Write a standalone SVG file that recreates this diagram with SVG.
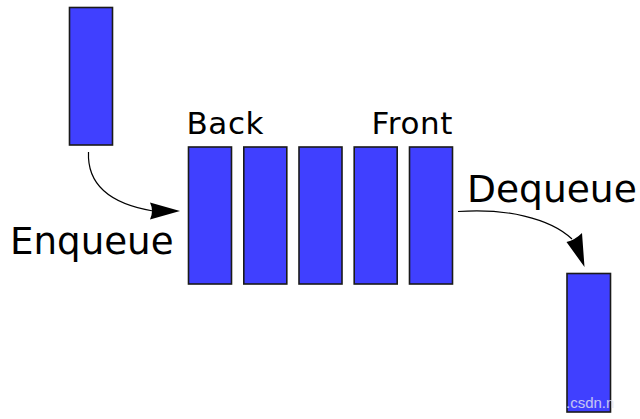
<svg xmlns="http://www.w3.org/2000/svg" width="640" height="419" viewBox="0 0 640 419">
<style>
.box{fill:#4040ff;stroke:#1a1a1a;stroke-width:1.6}
.lbl{font-family:"DejaVu Sans",sans-serif;fill:#000}
.con{fill:none;stroke:#000;stroke-width:1.2}
.head{fill:#000;stroke:none}
</style>
<rect width="640" height="419" fill="#fff"/>
<g id="incoming"><rect class="box" x="69.5" y="7.5" width="43" height="137.5"/></g>
<g id="q1"><rect class="box" x="188.5" y="147" width="43" height="137"/></g>
<g id="q2"><rect class="box" x="243.8" y="147" width="43" height="137"/></g>
<g id="q3"><rect class="box" x="299" y="147" width="43" height="137"/></g>
<g id="q4"><rect class="box" x="354.2" y="147" width="43" height="137"/></g>
<g id="q5"><rect class="box" x="409.5" y="147" width="43" height="137"/></g>
<g id="outgoing"><rect class="box" x="567" y="273.5" width="43.5" height="138.5"/></g>
<g id="labels">
<text class="lbl" x="186.5" y="134" font-size="31" letter-spacing="0.6">Back</text>
<text class="lbl" x="453" y="134" font-size="31" letter-spacing="0.6" text-anchor="end">Front</text>
<text class="lbl" x="467" y="201.5" font-size="37.6">Dequeue</text>
<text class="lbl" x="10" y="253.5" font-size="37.2">Enqueue</text>
</g>
<g id="connectors">
<path class="con" d="M88.5 152 C87 186 112 204 153 211"/>
<path class="head" d="M180 211 L150 202.5 Q154 211 150 219.5 Z"/>
<path class="con" d="M458 211.5 C505 208 550 218 572 239"/>
<path class="head" d="M584.5 267 L566.5 242 Q575 240 582 233 Z"/>
</g>
<text x="566" y="408" font-family="Liberation Sans,sans-serif" font-size="15" fill="#e6e6f0" opacity="0.8">.csdn.n</text>
</svg>
